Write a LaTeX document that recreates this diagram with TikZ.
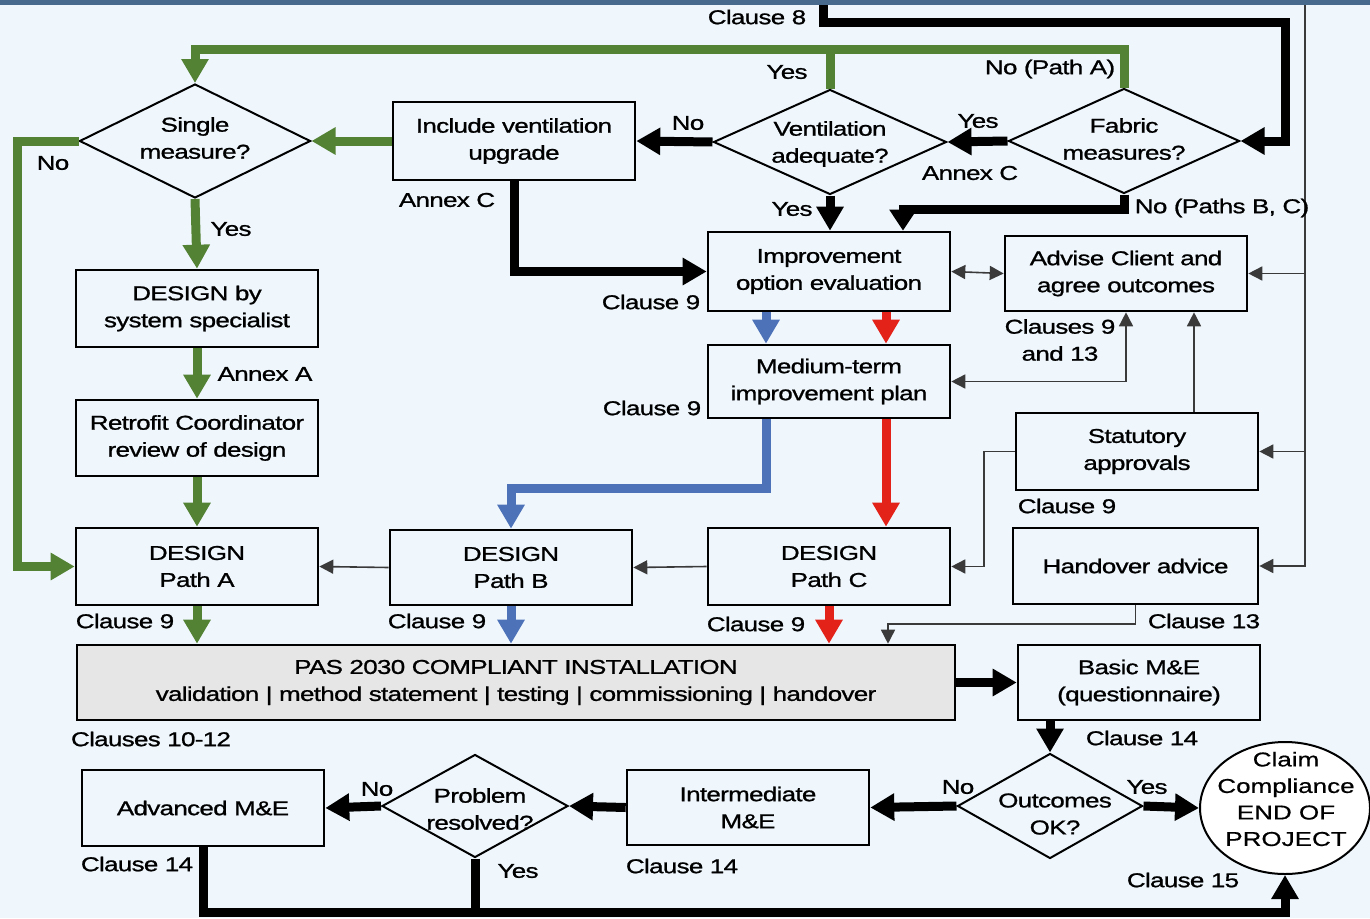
\documentclass[tikz,border=0pt]{standalone}
\usepackage{fontspec}
\setmainfont{Liberation Sans}[FakeStretch=1.3,LetterSpace=-3.5,FakeBold=1]
\newfontfamily\widefont{Liberation Sans}[FakeStretch=1.3,FakeBold=0.6]
\usetikzlibrary{arrows.meta,shapes.geometric}
\definecolor{bg}{HTML}{EFF7FD}
\definecolor{topbar}{HTML}{486B8D}
\definecolor{pgreen}{HTML}{548235}
\definecolor{pblue}{HTML}{4E72B8}
\definecolor{pred}{HTML}{E32219}
\definecolor{pasfill}{HTML}{E6E6E6}
\definecolor{thinline}{HTML}{3A3A3A}
\begin{document}
\begin{tikzpicture}[x=1pt,y=-1pt,
  every node/.style={font=\fontsize{20}{27}\selectfont,text=black},
  box/.style={draw,line width=2.6pt,minimum width=242pt,minimum height=76pt,align=center,inner sep=0pt},
  dia/.style={draw,diamond,line width=2pt,inner sep=0pt},
  txt/.style={inner sep=0pt,align=center},
  bigarrow/.style={line width=9pt,-{Triangle[length=24pt,width=26pt]}},
  blk/.style={bigarrow,color=black},
  grn/.style={bigarrow,color=pgreen},
  blu/.style={bigarrow,color=pblue},
  rd/.style={bigarrow,color=pred},
  thn/.style={line width=1.6pt,color=thinline,-{Triangle[length=14pt,width=14pt]}},
  thnboth/.style={line width=1.6pt,color=thinline,{Triangle[length=14pt,width=14pt]}-{Triangle[length=14pt,width=14pt]}},
]
% canvas
\fill[bg] (0,0) rectangle (1370,918);
\useasboundingbox (0,0) rectangle (1370,918);

% ---------- decision diamonds ----------
\node[dia,minimum width=231pt,minimum height=114pt] (single) at (195,141) {};
\node[txt] (single-t) at (195,138) {Single\\measure?};
\node[dia,minimum width=233pt,minimum height=105pt] (vent) at (830,142) {};
\node[txt] (vent-t) at (830,144) {Ventilation\\adequate?};
\node[dia,minimum width=231pt,minimum height=105pt] (fabric) at (1124,141) {};
\node[txt] (fabric-t) at (1124,139) {Fabric\\measures?};
\node[dia,minimum width=185pt,minimum height=105pt] (outc) at (1050,806) {};
\node[txt] (outc-t) at (1055,814) {Outcomes\\OK?};
\node[dia,minimum width=186pt,minimum height=103pt] (prob) at (475,806) {};
\node[txt] (prob-t) at (480,809) {Problem\\resolved?};

% ---------- process boxes ----------
\node[box,minimum width=242pt,minimum height=78pt] (incl) at (514,141) {Include ventilation\\upgrade};
\node[box,minimum height=79pt] (impr) at (829,271.5) {Improvement\\option evaluation};
\node[box,minimum height=75pt] (advise) at (1126,273.5) {Advise Client and\\agree outcomes};
\node[box,minimum height=73pt] (med) at (829,381.5) {Medium-term\\improvement plan};
\node[box,minimum height=77pt] (spec) at (197,308.5) {DESIGN by\\system specialist};
\node[box] (retro) at (197,438) {Retrofit Coordinator\\review of design};
\node[box,minimum height=77pt] (pathA) at (197,566.5) {DESIGN\\Path A};
\node[box,minimum height=75pt] (pathB) at (511,567.5) {DESIGN\\Path B};
\node[box,minimum height=77pt] (pathC) at (829,566.5) {DESIGN\\Path C};
\node[box,minimum height=77pt] (stat) at (1137,451.5) {Statutory\\approvals};
\node[box,minimum width=245pt] (hand) at (1135.5,566) {Handover advice};
\node[box,fill=pasfill,minimum width=878pt,minimum height=75pt] (pas) at (516,682.5)
  {PAS 2030 COMPLIANT INSTALLATION\\validation | method statement | testing | commissioning | handover};
\node[box,minimum height=75pt] (basic) at (1139,682.5) {Basic M\&E\\(questionnaire)};
\node[box,minimum height=75pt] (inter) at (748,807.5) {Intermediate\\M\&E};
\node[box] (adv) at (203,808) {Advanced M\&E};

% ---------- end terminator ----------
\node[draw,ellipse,line width=2pt,fill=white,minimum width=170pt,minimum height=132pt,inner sep=0pt] (claim) at (1285,808) {};
\node[txt,font=\widefont\fontsize{20}{26.5}\selectfont] (claim-t) at (1286,799) {Claim\\Compliance\\END OF\\PROJECT};

% ---------- helper coordinates for routed connectors ----------
\coordinate (c8) at (823,4);
\coordinate (c8r) at (1285,22);
\coordinate (gtop) at (0,49);
\coordinate (gleft) at (17,0);
\coordinate (fb) at (903,209);
\coordinate (bx) at (766,0);
\coordinate (rx) at (886,0);
\coordinate (by) at (0,488);
\coordinate (ax) at (1126,0);
\coordinate (sx) at (1194,0);
\coordinate (lx) at (984,0);
\coordinate (rtop) at (1305,4);
\coordinate (hx) at (888,624);
\coordinate (bot) at (700,912);

% ---------- green route (Path A) ----------
\draw[grn] (fabric.north) -- (fabric.north |- gtop) -| (single.north);
\draw[line width=9pt,pgreen] (vent.north) -- (vent.north |- gtop);
\draw[grn] (incl.west) -- (single.east);
\draw[grn] (single.west) -- (single.west -| gleft) |- (pathA.west);
\draw[grn] (single.south) -- (spec.north);
\draw[grn] (spec.south) -- (retro.north);
\draw[grn] (retro.south) -- (pathA.north);
\draw[grn] (pathA.south) -- (pathA.south |- pas.north);

% ---------- black main flow ----------
\draw[blk] (c8) |- (c8r) |- (fabric.east);
\draw[blk] (fabric.west) -- (vent.east);
\draw[blk] (vent.west) -- (incl.east);
\draw[blk] (incl.south) |- (impr.west);
\draw[blk] (vent.south) -- (vent.south |- impr.north);
\draw[line width=9pt,-{Triangle[length=21pt,width=26pt]}] (fabric.south) |- (fb) -- (fb |- impr.north);

% ---------- blue (Path B) and red (Path C) ----------
\draw[blu] (impr.south -| bx) -- (med.north -| bx);
\draw[rd] (impr.south -| rx) -- (med.north -| rx);
\draw[blu] (med.south -| bx) -- (bx |- by) -| (pathB.north);
\draw[rd] (med.south -| rx) -- (pathC.north -| rx);
\draw[blu] (pathB.south) -- (pathB.south |- pas.north);
\draw[rd] (pathC.south) -- (pathC.south |- pas.north);

% ---------- thin links ----------
\draw[thn] (pathC.west) -- (pathB.east);
\draw[thn] (pathB.west) -- (pathA.east);
\draw[thnboth] (impr.east) -- (advise.west);
\draw[thnboth] (med.east) -| (advise.south -| ax);
\draw[thn] (stat.north -| sx) -- (advise.south -| sx);
\draw[thn] (stat.west) -- (stat.west -| lx) |- (pathC.east);
\draw[thn] (rtop) |- (hand.east);
\draw[thn] (rtop |- advise.east) -- (advise.east);
\draw[thn] (rtop |- stat.east) -- (stat.east);
\draw[thn] (hand.south) |- (hx) -- (hx |- pas.north);

% ---------- monitoring & evaluation ----------
\draw[blk] (pas.east) -- (basic.west);
\draw[blk] (basic.south -| outc.north) -- (outc.north);
\draw[blk] (outc.east) -- (claim.west);
\draw[blk] (outc.west) -- (inter.east);
\draw[blk] (inter.west) -- (prob.east);
\draw[blk] (prob.west) -- (adv.east);
\draw[blk] (adv.south) |- (bot) -| (claim.south);
\draw[line width=9pt] (prob.south) -- (prob.south |- bot);

% ---------- top band ----------
\fill[topbar] (0,0) rectangle (1370,5);

% ---------- labels ----------
\node[txt] (l-c8) at (757,17) {Clause 8};
\node[txt] (l-y1) at (787,72) {Yes};
\node[txt] (l-npa) at (1050,69) {No (Path A)};
\node[txt] (l-n1) at (688,123) {No};
\node[txt] (l-y2) at (978,121) {Yes};
\node[txt] (l-ac1) at (970,173) {Annex C};
\node[txt] (l-ac2) at (447,200) {Annex C};
\node[txt] (l-y3) at (792,209) {Yes};
\node[txt] (l-nbc) at (1222,208) {No (Paths B, C)};
\node[txt] (l-n2) at (53,163) {No};
\node[txt] (l-y4) at (231,229) {Yes};
\node[txt] (l-c9a) at (651,302) {Clause 9};
\node[txt] (l-c913) at (1060,340) {Clauses 9\\and 13};
\node[txt] (l-aa) at (265,374) {Annex A};
\node[txt] (l-c9b) at (652,408) {Clause 9};
\node[txt] (l-c9c) at (1067,506) {Clause 9};
\node[txt] (l-c9d) at (125,621) {Clause 9};
\node[txt] (l-c9e) at (437,621) {Clause 9};
\node[txt] (l-c9f) at (756,624) {Clause 9};
\node[txt] (l-c13) at (1204,621) {Clause 13};
\node[txt] (l-c1012) at (151,739) {Clauses 10-12};
\node[txt] (l-c14a) at (1142,738) {Clause 14};
\node[txt] (l-n3) at (958,787) {No};
\node[txt] (l-y5) at (1147,787) {Yes};
\node[txt] (l-n4) at (377,789) {No};
\node[txt] (l-c14b) at (137,864) {Clause 14};
\node[txt] (l-c14c) at (682,866) {Clause 14};
\node[txt] (l-y6) at (518,871) {Yes};
\node[txt] (l-c15) at (1183,880) {Clause 15};
\end{tikzpicture}
\end{document}
